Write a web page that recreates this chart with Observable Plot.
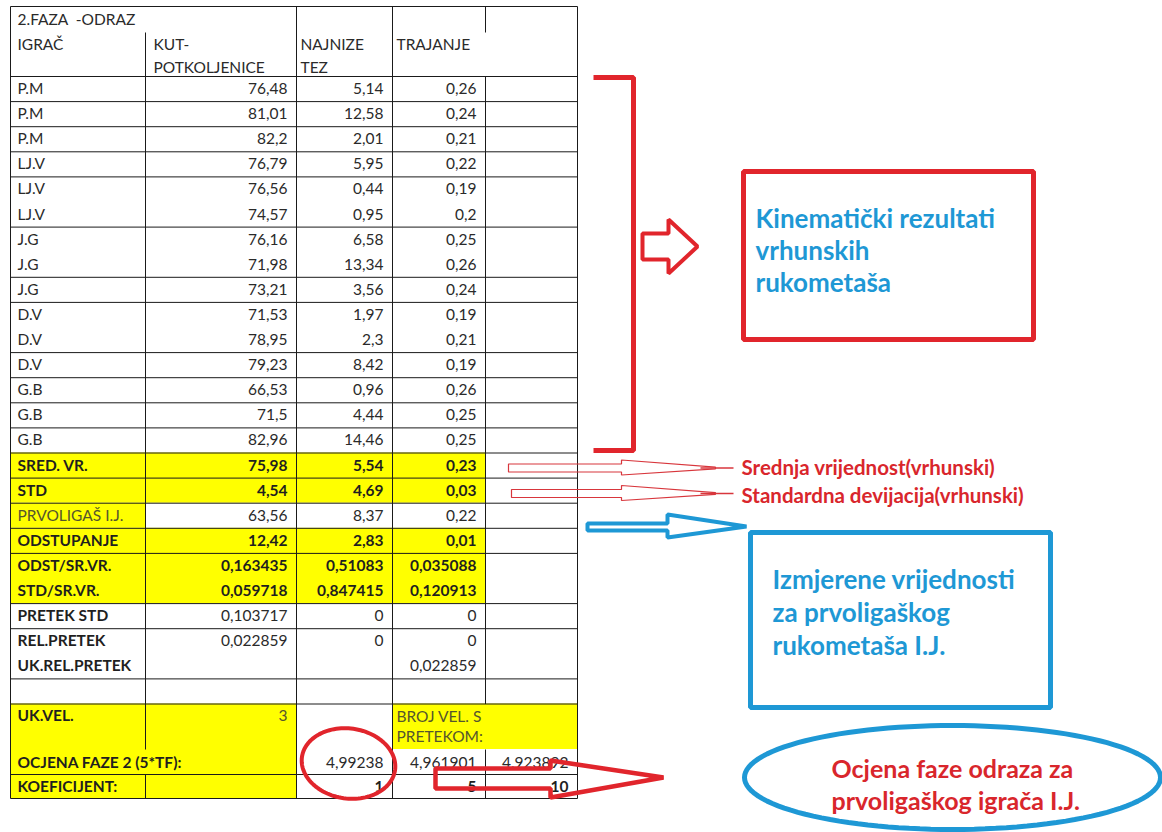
<!DOCTYPE html>
<html><head><meta charset="utf-8">
<script src="https://cdn.jsdelivr.net/npm/d3@7"></script>
<script src="https://cdn.jsdelivr.net/npm/@observablehq/plot@0.6"></script>
<style>html,body{margin:0;padding:0;background:#fff;overflow:hidden}</style>
</head><body><div id="chart"></div>
<script>
// ---------- DATA ----------
const headerTitle = "2.FAZA  -ODRAZ";
const headers = [["IGRAČ"], ["KUT-", "POTKOLJENICE"], ["NAJNIZE", "TEZ"], ["TRAJANJE"]];
const players = ["P.M","P.M","P.M","LJ.V","LJ.V","LJ.V","J.G","J.G","J.G","D.V","D.V","D.V","G.B","G.B","G.B"];
const kut = [76.48,81.01,82.2,76.79,76.56,74.57,76.16,71.98,73.21,71.53,78.95,79.23,66.53,71.5,82.96];
const tez = [5.14,12.58,2.01,5.95,0.44,0.95,6.58,13.34,3.56,1.97,2.3,8.42,0.96,4.44,14.46];
const trajanje = [0.26,0.24,0.21,0.22,0.19,0.2,0.25,0.26,0.24,0.19,0.21,0.19,0.26,0.25,0.25];
const summaryLabels = ["SRED. VR.","STD","PRVOLIGAŠ I.J.","ODSTUPANJE","ODST/SR.VR.","STD/SR.VR.","PRETEK STD","REL.PRETEK","UK.REL.PRETEK"];
const summaryKut = [75.98,4.54,63.56,12.42,0.163435,0.059718,0.103717,0.022859,null];
const summaryTez = [5.54,4.69,8.37,2.83,0.51083,0.847415,0,0,null];
const summaryTraj = [0.23,0.03,0.22,0.01,0.035088,0.120913,0,0,0.022859];
const ukVelLabel = "UK.VEL.";
const ukVel = 3;
const brojLabel = ["BROJ VEL. S", "PRETEKOM:"];
const ocjenaLabel = "OCJENA FAZE 2 (5*TF):";
const ocjena = [4.99238, 4.961901, 4.923892];
const koefLabel = "KOEFICIJENT:";
const koef = [1, 5, 10];
const noteMean = "Srednja vrijednost(vrhunski)";
const noteStd = "Standardna devijacija(vrhunski)";
const boxTopText = ["Kinematički rezultati", "vrhunskih", "rukometaša"];
const boxMidText = ["Izmjerene vrijednosti", "za prvoligaškog", "rukometaša I.J."];
const ellipseText = ["Ocjena faze odraza za", "prvoligaškog igrača I.J."];

// ---------- LAYOUT ----------
const W = 1162, H = 832;
const FONT = "Lato";
const cols = [10, 145, 296, 392, 485, 577];
const T0 = 6, HSPLIT = 32, R0 = 76, RH = 25.1;
const rowTop = i => R0 + RH * i;
const base = i => rowTop(i) + 17.5;
const vx = c => cols[c + 1] - 9;          // right-aligned value x for column c
const fmt = v => v == null ? "" : String(v).replace(".", ",");
const BOT = 798, OCJ_TOP = 749, KOEF_TOP = 774;
const RED = "#e1252c", BLUE = "#1e98d5", INK = "#1f1f1f", OLIVE = "#55552e";
const boldSummary = new Set(["SRED. VR.","STD","ODSTUPANJE","ODST/SR.VR.","STD/SR.VR."]);

// yellow fills
const yellow = [
  {x1: cols[0], x2: cols[4], y1: rowTop(15), y2: rowTop(17)},
  {x1: cols[0], x2: cols[1], y1: rowTop(17), y2: rowTop(18)},
  {x1: cols[0], x2: cols[4], y1: rowTop(18), y2: rowTop(21)},
  {x1: cols[0], x2: cols[2], y1: rowTop(25), y2: BOT},
  {x1: cols[3], x2: cols[5], y1: rowTop(25), y2: OCJ_TOP}
];

// grid lines
const hRows = [1,2,3,4,6,8,9,11,12,13,14,15,16,17,18,19,21,22,24,25];
const hLines = [T0, R0, ...hRows.map(rowTop), KOEF_TOP, BOT].map(y => ({x1: cols[0], x2: cols[5], y1: y, y2: y}));
const vLines = [
  [cols[0], T0, BOT], [cols[1], HSPLIT, OCJ_TOP], [cols[1], KOEF_TOP, BOT],
  [cols[2], T0, BOT], [cols[3], T0, BOT],
  [cols[4], T0, HSPLIT], [cols[4], R0, rowTop(25)], [cols[4], OCJ_TOP, BOT],
  [cols[5], T0, BOT]
].map(([x, y1, y2]) => ({x1: x, x2: x, y1, y2}));

// texts
const normalStart = [], normalEnd = [], boldStart = [], boldEnd = [], oliveStart = [], oliveEnd = [];
normalStart.push({x: 17, y: 24, t: headerTitle});
const headX = [17, 153, 300, 396];
headers.forEach((lines, c) => lines.forEach((t, k) => normalStart.push({x: headX[c], y: 49 + 23 * k, t})));
players.forEach((p, i) => {
  normalStart.push({x: 17, y: base(i), t: p});
  normalEnd.push({x: vx(1), y: base(i), t: fmt(kut[i])});
  normalEnd.push({x: vx(2), y: base(i), t: fmt(tez[i])});
  normalEnd.push({x: vx(3), y: base(i), t: fmt(trajanje[i])});
});
summaryLabels.forEach((lab, j) => {
  const i = 15 + j, y = base(i);
  const b = boldSummary.has(lab);
  if (lab.startsWith("PRVOLIGAŠ")) oliveStart.push({x: 17, y, t: lab});
  else boldStart.push({x: 17, y, t: lab});
  const arr = b ? boldEnd : normalEnd;
  arr.push({x: vx(1), y, t: fmt(summaryKut[j])});
  arr.push({x: vx(2), y, t: fmt(summaryTez[j])});
  arr.push({x: vx(3), y, t: fmt(summaryTraj[j])});
});
boldStart.push({x: 17, y: 720, t: ukVelLabel});
oliveEnd.push({x: vx(1), y: 720, t: fmt(ukVel)});
brojLabel.forEach((t, k) => oliveStart.push({x: 396, y: 721 + 20 * k, t}));
boldStart.push({x: 17, y: 767, t: ocjenaLabel});
ocjena.forEach((v, k) => normalEnd.push({x: vx(2 + k), y: 767, t: fmt(v)}));
boldStart.push({x: 17, y: 791, t: koefLabel});
koef.forEach((v, k) => boldEnd.push({x: vx(2 + k), y: 791, t: fmt(v)}));

// annotation shapes
const bracket = [[593, 77], [633, 77], [633, 450], [593, 450]];
const bigArrow = [[642, 233], [668, 233], [668, 219], [697, 246], [668, 273], [668, 259], [642, 259]];
const redBox = [[743, 171], [1033, 171], [1033, 339], [743, 339]];
const thinArrow = (y, x0) => [[x0, y - 4], [621, y - 4], [621, y - 8], [715, y - 0.8], [715, y + 0.8], [621, y + 7], [621, y + 4], [x0, y + 4]];
const thin1 = thinArrow(467.5, 508), thin2 = thinArrow(493, 511);
const tails = [{x1: 700, x2: 733, y1: 467.5, y2: 467.5}, {x1: 700, x2: 733, y1: 493, y2: 493}];
const blueArrow = [[587, 523], [667, 523], [667, 514], [746, 526], [667, 537], [667, 530], [587, 530]];
const blueBox = [[750, 532], [1050, 532], [1050, 707], [750, 707]];
const ellipsePts = (cx, cy, rx, ry, rot) => d3.range(0, 360, 3).map(a => {
  const t = a * Math.PI / 180, r = rot * Math.PI / 180;
  const ex = rx * Math.cos(t), ey = ry * Math.sin(t);
  return [cx + ex * Math.cos(r) - ey * Math.sin(r), cy + ex * Math.sin(r) + ey * Math.cos(r)];
});
const blueEllipse = ellipsePts(952, 777, 208, 52, 0);
const redCircle = ellipsePts(348, 763, 47, 35, 8);
const bottomArrow = [[435, 768], [550, 768], [550, 760], [663, 777], [550, 797], [550, 788], [435, 788]];

const poly = (pts, stroke, sw) => Plot.line(pts, {x: d => d[0], y: d => d[1], curve: "linear-closed", stroke, strokeWidth: sw, strokeLinejoin: "miter"});
const open = (pts, stroke, sw) => Plot.line(pts, {x: d => d[0], y: d => d[1], stroke, strokeWidth: sw, strokeLinejoin: "miter", strokeLinecap: "butt"});
const txt = (data, anchor, weight, fill, size) => Plot.text(data, {x: "x", y: "y", text: "t", textAnchor: anchor, lineAnchor: "bottom", fontFamily: FONT, fontWeight: weight, fill, fontSize: size});

const noteLines = (lines, x, y0, dy) => lines.map((t, k) => ({x, y: y0 + dy * k, t}));

const chart = Plot.plot({
  width: W, height: H, margin: 0,
  x: {domain: [0, W], range: [0, W], axis: null},
  y: {domain: [0, H], range: [0, H], axis: null},
  style: {background: "#fff"},
  marks: [
    Plot.rect(yellow, {x1: "x1", x2: "x2", y1: "y1", y2: "y2", fill: "#ffff00"}),
    Plot.link([...hLines, ...vLines], {x1: "x1", x2: "x2", y1: "y1", y2: "y2", stroke: "#1a1a1a", strokeWidth: 1}),
    txt(normalStart, "start", "normal", "#2a2a2a", 15.5),
    txt(normalEnd, "end", "normal", "#2a2a2a", 15.5),
    txt(boldStart, "start", "bold", INK, 15.5),
    txt(boldEnd, "end", "bold", INK, 15.5),
    txt(oliveStart, "start", "normal", OLIVE, 15.5),
    txt(oliveEnd, "end", "normal", OLIVE, 15.5),
    // annotations
    open(bracket, RED, 5),
    poly(bigArrow, RED, 4),
    poly(redBox, RED, 5),
    txt(noteLines(boxTopText, 755, 227, 32), "start", "bold", BLUE, 26),
    poly(thin1, "#d8363c", 1.2),
    poly(thin2, "#d8363c", 1.2),
    Plot.link(tails, {x1: "x1", x2: "x2", y1: "y1", y2: "y2", stroke: "#d8363c", strokeWidth: 1.4}),
    txt([{x: 741, y: 474, t: noteMean}, {x: 741, y: 502, t: noteStd}], "start", "bold", "#d9262c", 20.5),
    poly(blueArrow, BLUE, 4),
    poly(blueBox, BLUE, 5),
    txt(noteLines(boxMidText, 772, 588, 33), "start", "bold", BLUE, 26),
    poly(blueEllipse, BLUE, 5),
    txt(noteLines(ellipseText, 831, 777, 32), "start", "bold", "#d9262c", 25),
    poly(redCircle, RED, 4),
    poly(bottomArrow, RED, 4.5)
  ]
});
document.getElementById("chart").appendChild(chart);
</script>
</body></html>
